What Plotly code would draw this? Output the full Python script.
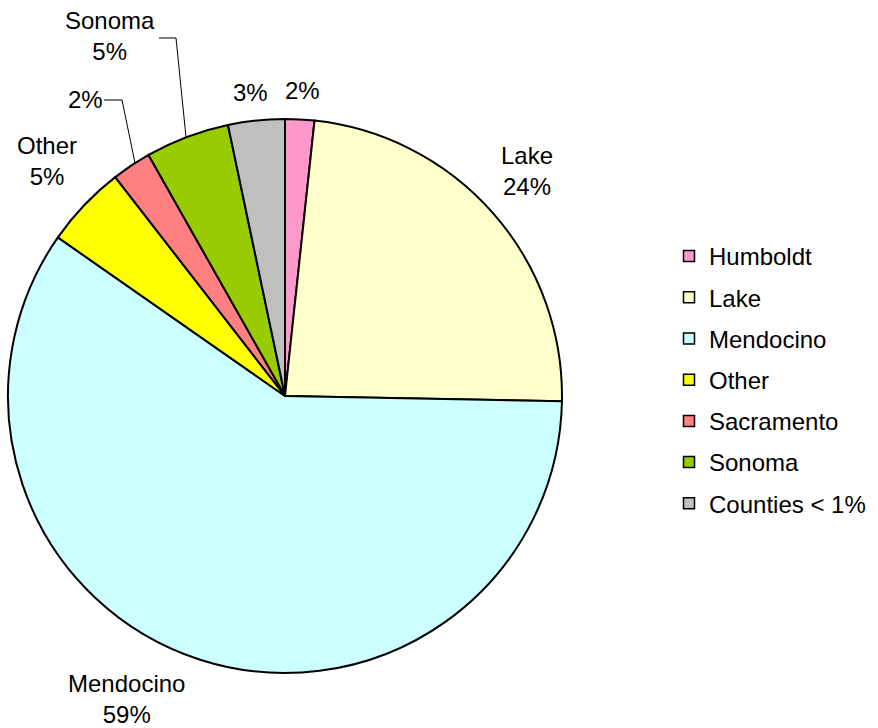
import plotly.graph_objects as go

labels = ["Humboldt", "Lake", "Mendocino", "Other", "Sacramento", "Sonoma", "Counties < 1%"]
values = [1.7, 23.6, 59.4, 4.8, 2.3, 4.9, 3.3]
colors = ["#FF99CC", "#FFFFCC", "#CCFFFF", "#FFFF00", "#FF8080", "#99CC00", "#C0C0C0"]
show_name = [False, True, True, True, False, True, False]

W, H = 878, 728
FONT = "Liberation Sans, Arial, sans-serif"
FS = 24

fig = go.Figure()
fig.add_trace(go.Pie(
    labels=labels, values=values, sort=False, direction="clockwise", rotation=0,
    marker=dict(colors=colors, line=dict(color="black", width=2)),
    textinfo="none", showlegend=False, hoverinfo="label+percent",
    domain=dict(x=[8 / W, 562 / W], y=[1 - 673 / H, 1 - 119 / H]),
))

for i, (lab, col) in enumerate(zip(labels, colors)):
    fig.add_trace(go.Scatter(
        x=[None], y=[None], mode="markers", name=lab, legendgroup=f"g{i}",
        marker=dict(symbol="square", size=11, color=col, line=dict(color="black", width=1.5)),
    ))

# label positions (pixel centres) for each slice
label_pos = [(302, 90), (527, 171), (126, 699), (47, 161), (85, 100), (110, 36), (250, 92)]
total = sum(values)
for lab, v, sn, (px, py) in zip(labels, values, show_name, label_pos):
    pct = f"{round(v / total * 100)}%"
    txt = f"{lab}<br>{pct}" if sn else pct
    fig.add_annotation(x=px / W, y=1 - py / H, xref="paper", yref="paper", text=txt,
                       showarrow=False, xanchor="center", yanchor="middle",
                       font=dict(family=FONT, size=FS, color="black"))

def seg(pts):
    path = "M " + " L ".join(f"{x / W},{1 - y / H}" for x, y in pts)
    fig.add_shape(type="path", path=path, xref="paper", yref="paper",
                  line=dict(color="black", width=1))

seg([(159, 38), (176, 38), (186, 137)])
seg([(104, 100), (122, 100), (135, 163)])

fig.update_layout(
    width=W, height=H, margin=dict(l=0, r=0, t=0, b=0),
    paper_bgcolor="white", plot_bgcolor="white",
    xaxis=dict(visible=False), yaxis=dict(visible=False),
    font=dict(family=FONT, size=FS, color="black"),
    legend=dict(x=669 / W, xanchor="left", y=1 - 380 / H, yanchor="middle",
                tracegroupgap=7, font=dict(family=FONT, size=FS, color="black"),
                bgcolor="rgba(0,0,0,0)", itemclick=False),
)

fig.write_html("out.html", config={"displayModeBar": False},
               post_script="document.body.style.margin='0';document.body.style.overflow='hidden';")
